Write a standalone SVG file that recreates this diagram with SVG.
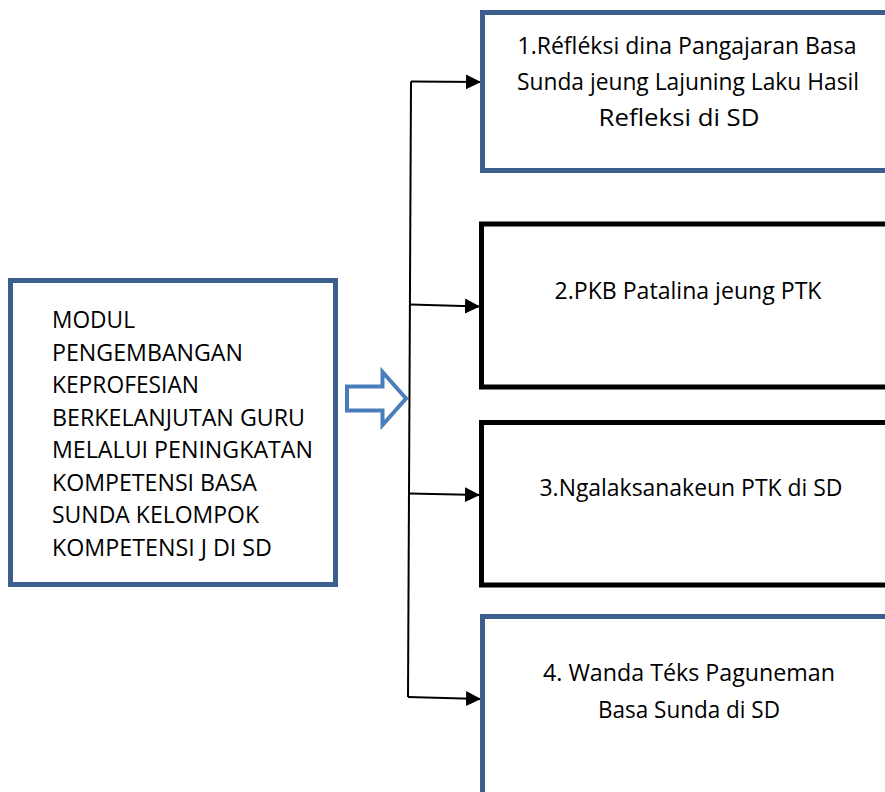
<svg xmlns="http://www.w3.org/2000/svg" width="885" height="792" viewBox="0 0 885 792">
<defs>
<marker id="ah" viewBox="0 0 10 10" refX="10" refY="5" markerWidth="15" markerHeight="16" markerUnits="userSpaceOnUse" orient="auto">
<path d="M0,0 L10,5 L0,10 Z" fill="#000"/>
</marker>
<style>
.t{font-family:"Open Sans","Noto Sans",sans-serif;font-size:23px;fill:#000}
.c{text-anchor:middle}
.blue{fill:#fff;stroke:#3C5F8E;stroke-width:5}
.black{fill:#fff;stroke:#000;stroke-width:5}
.con{fill:none;stroke:#000;stroke-width:2}
</style>
</defs>
<rect width="885" height="792" fill="#fff"/>
<g id="main">
<rect class="blue" x="10.5" y="280.5" width="325" height="304"/>
<text class="t" x="52" y="328" textLength="83" lengthAdjust="spacingAndGlyphs">MODUL</text>
<text class="t" x="52" y="360.5" textLength="191" lengthAdjust="spacingAndGlyphs">PENGEMBANGAN</text>
<text class="t" x="52" y="393" textLength="147" lengthAdjust="spacingAndGlyphs">KEPROFESIAN</text>
<text class="t" x="52" y="425.5" textLength="253" lengthAdjust="spacingAndGlyphs">BERKELANJUTAN GURU</text>
<text class="t" x="52" y="458" textLength="261" lengthAdjust="spacingAndGlyphs">MELALUI PENINGKATAN</text>
<text class="t" x="52" y="490.5" textLength="205" lengthAdjust="spacingAndGlyphs">KOMPETENSI BASA</text>
<text class="t" x="52" y="523" textLength="207" lengthAdjust="spacingAndGlyphs">SUNDA KELOMPOK</text>
<text class="t" x="52" y="555.5" textLength="220" lengthAdjust="spacingAndGlyphs">KOMPETENSI J DI SD</text>
</g>
<g id="blockarrow">
<path d="M347,386.5 L382.5,386.5 L382.5,372 L406,398.5 L382.5,425 L382.5,410.5 L347,410.5 Z" fill="#fff" stroke="#4A7EBB" stroke-width="4" stroke-linejoin="miter"/>
</g>
<g id="connectors">
<path class="con" d="M411,81.5 L408,697"/>
<path class="con" d="M411,81.5 L481,82" marker-end="url(#ah)"/>
<path class="con" d="M410,304.5 L480,306.5" marker-end="url(#ah)"/>
<path class="con" d="M409,493.5 L480,495" marker-end="url(#ah)"/>
<path class="con" d="M408,697 L481,699" marker-end="url(#ah)"/>
</g>
<g id="n1">
<rect class="blue" x="482.5" y="12.5" width="420" height="158"/>
<text class="t c" x="687" y="54" textLength="339" lengthAdjust="spacingAndGlyphs">1.Réfléksi dina Pangajaran Basa</text>
<text class="t c" x="688" y="90" textLength="342" lengthAdjust="spacingAndGlyphs">Sunda jeung Lajuning Laku Hasil</text>
<text class="t c" x="679" y="126" textLength="161" lengthAdjust="spacingAndGlyphs">Refleksi di SD</text>
</g>
<g id="n2">
<rect class="black" x="481.5" y="224" width="420" height="163"/>
<text class="t c" x="688" y="299" textLength="267" lengthAdjust="spacingAndGlyphs">2.PKB Patalina jeung PTK</text>
</g>
<g id="n3">
<rect class="black" x="481.5" y="422.5" width="420" height="162.5"/>
<text class="t c" x="691" y="496" textLength="303" lengthAdjust="spacingAndGlyphs">3.Ngalaksanakeun PTK di SD</text>
</g>
<g id="n4">
<rect class="blue" x="482.5" y="616.5" width="420" height="200"/>
<text class="t c" x="689" y="681" textLength="292" lengthAdjust="spacingAndGlyphs">4. Wanda Téks Paguneman</text>
<text class="t c" x="689" y="718" textLength="182" lengthAdjust="spacingAndGlyphs">Basa Sunda di SD</text>
</g>
</svg>
